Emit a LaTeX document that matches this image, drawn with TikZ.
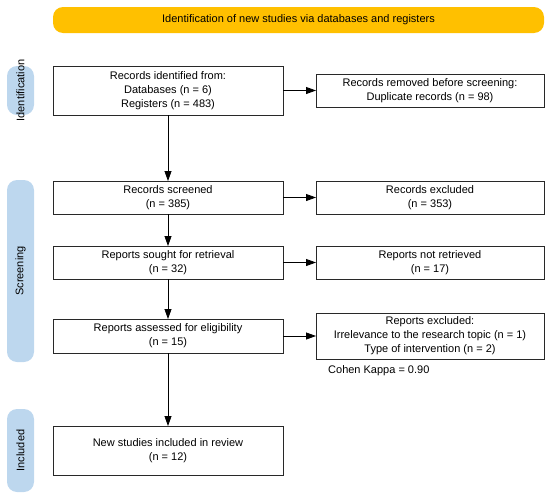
\documentclass[tikz,border=0pt]{standalone}
\usepackage{fontspec}
\setmainfont{Liberation Sans}
\usetikzlibrary{arrows.meta}
\definecolor{bannerC}{RGB}{255,192,0}
\definecolor{pillC}{RGB}{189,215,238}
\definecolor{boxline}{RGB}{40,40,40}
\begin{document}
\begin{tikzpicture}[x=1pt,y=-1pt,
  box/.style={draw=boxline, line width=0.8pt, fill=white, align=center, inner sep=0pt, outer sep=0pt, font=\fontsize{11}{14}\selectfont},
  arr/.style={-{Triangle[length=10pt,width=7pt]}, line width=0.8pt},
  pill/.style={fill=pillC, rounded corners=10pt},
  side/.style={rotate=90, font=\fontsize{11}{13}\selectfont},
]
\useasboundingbox (0,0) rectangle (550,498);
% banner
\node[fill=bannerC, rounded corners=10pt, minimum width=491pt, minimum height=26pt, inner sep=0pt, font=\fontsize{11}{13}\selectfont] (banner) at (298.5,20) {Identification of new studies via databases and registers};
% side pills
\fill[pill] (7,66) rectangle (34,115);
\node[side] (lid) at (20.5,90.5) {Identification};
\fill[pill] (7,180) rectangle (34,362);
\node[side] (lscr) at (20.5,271) {Screening};
\fill[pill] (7,409) rectangle (34,492);
\node[side] (linc) at (20.5,450.5) {Included};
% boxes
\node[box, minimum width=230pt, minimum height=49pt] (b1) at (168,90.5) {Records identified from:\\Databases (n = 6)\\Registers (n = 483)};
\node[box, minimum width=228pt, minimum height=33pt] (rem) at (430,90.5) {Records removed before screening:\\Duplicate records (n = 98)};
\node[box, minimum width=230pt, minimum height=33pt] (scr) at (168,197.5) {Records screened\\(n = 385)};
\node[box, minimum width=228pt, minimum height=33pt] (exc) at (430,197.5) {Records excluded\\(n = 353)};
\node[box, minimum width=230pt, minimum height=33pt] (sou) at (168,262.5) {Reports sought for retrieval\\(n = 32)};
\node[box, minimum width=228pt, minimum height=33pt] (nr) at (430,262.5) {Reports not retrieved\\(n = 17)};
\node[box, minimum width=230pt, minimum height=34pt] (ass) at (168,336) {Reports assessed for eligibility\\(n = 15)};
\node[box, minimum width=228pt, minimum height=46pt] (rex) at (430,336) {Reports excluded:\\Irrelevance to the research topic (n = 1)\\Type of intervention (n = 2)};
\node[box, minimum width=230pt, minimum height=49pt] (new) at (168,450.5) {New studies included in review\\(n = 12)};
\node[anchor=west, inner sep=0pt, font=\fontsize{11}{13}\selectfont] (kappa) at (328,371) {Cohen Kappa = 0.90};
% arrows
\draw[arr] (b1) -- (rem);
\draw[arr] (b1) -- (scr);
\draw[arr] (scr) -- (exc);
\draw[arr] (scr) -- (sou);
\draw[arr] (sou) -- (nr);
\draw[arr] (sou) -- (ass);
\draw[arr] (ass) -- (rex);
\draw[arr] (ass) -- (new);
\end{tikzpicture}
\end{document}
